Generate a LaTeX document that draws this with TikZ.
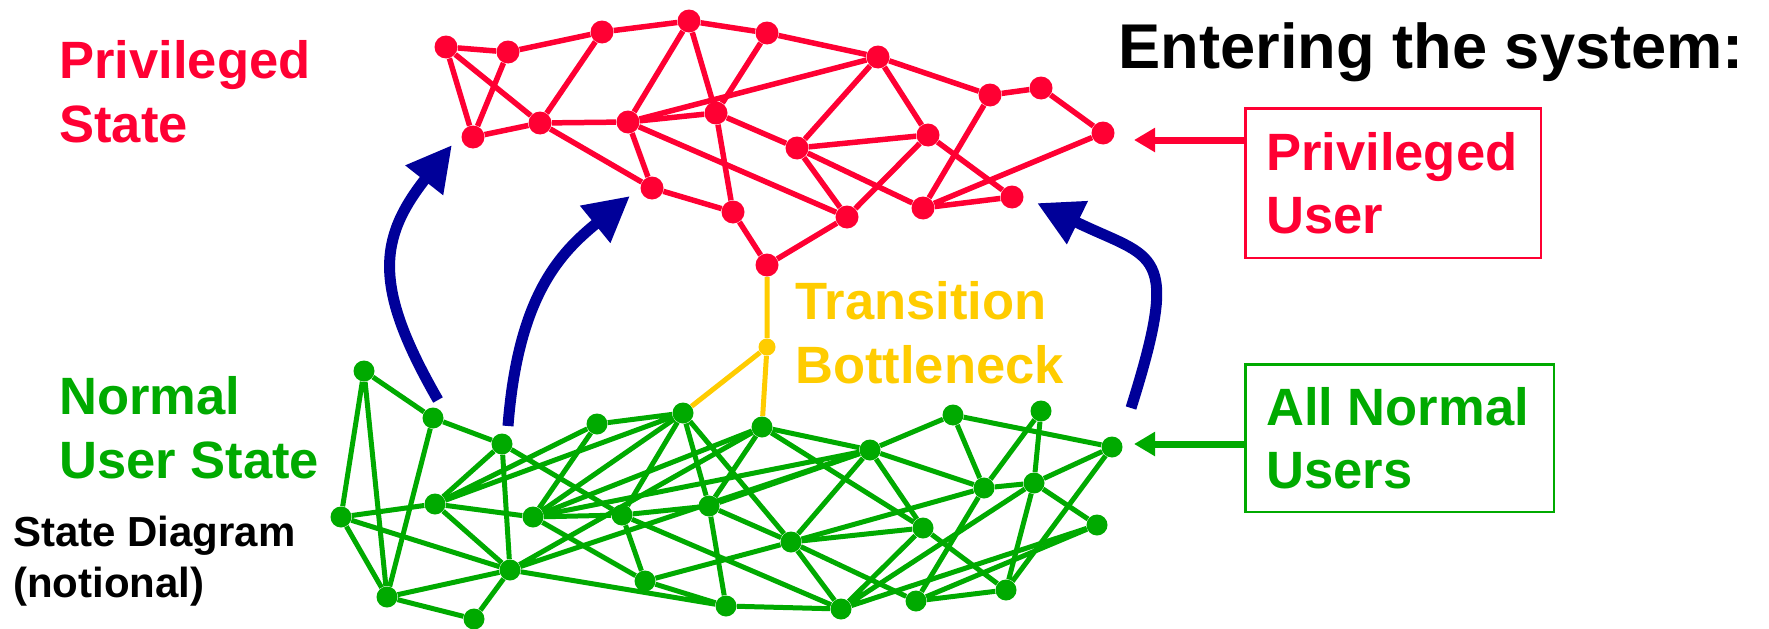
\documentclass[tikz,border=0pt]{standalone}
\usepackage{fontspec}
\setmainfont{Liberation Sans}
\usepackage{tikz}
\usetikzlibrary{arrows.meta, positioning}
\definecolor{privred}{RGB}{255,0,51}
\definecolor{usergreen}{RGB}{0,170,0}
\definecolor{gateyellow}{RGB}{255,204,0}
\definecolor{navyarrow}{RGB}{0,0,153}
\tikzset{%
	pstate/.style={circle, fill=privred, inner sep=0pt, minimum size=0.46cm},
	ustate/.style={circle, fill=usergreen, inner sep=0pt, minimum size=0.42cm},
	tstate/.style={circle, fill=gateyellow, inner sep=0pt, minimum size=0.34cm},
	pedge/.style={draw=privred, line width=0.11cm},
	uedge/.style={draw=usergreen, line width=0.1cm},
	tedge/.style={draw=gateyellow, line width=0.1cm},
	escalate/.style={draw=navyarrow, line width=0.22cm,
		-{Triangle[length=0.9cm, width=0.9cm]}},
	pointer/.style={line width=0.14cm, -{Triangle[length=0.42cm, width=0.46cm]}},
	bigtext/.style={font=\fontsize{29.9}{36.1}\selectfont\bfseries,
		inner sep=0pt, align=left, anchor=base west},
	notetext/.style={font=\fontsize{23.9}{28.5}\selectfont\bfseries,
		inner sep=0pt, align=left, anchor=base west},
	entrybox/.style={line width=0.05cm, font=\fontsize{29.9}{36.1}\selectfont\bfseries,
		align=flush left, inner ysep=0pt, anchor=north west},
}
\begin{document}
\begin{tikzpicture}[x=0.02cm, y=-0.02cm]
	\useasboundingbox (0,0) rectangle (1769,629);

	% privileged states
	\node[pstate] (p1) at (446,47) {};
	\node[pstate] (p2) at (508,52) {};
	\node[pstate] (p3) at (602,32) {};
	\node[pstate] (p4) at (689,21) {};
	\node[pstate] (p5) at (767,33) {};
	\node[pstate] (p6) at (878,57) {};
	\node[pstate] (p7) at (990,95) {};
	\node[pstate] (p8) at (1041,88) {};
	\node[pstate] (p9) at (1103,133) {};
	\node[pstate] (p10) at (473,137) {};
	\node[pstate] (p11) at (540,123) {};
	\node[pstate] (p12) at (628,122) {};
	\node[pstate] (p13) at (716,113) {};
	\node[pstate] (p14) at (797,148) {};
	\node[pstate] (p15) at (928,135) {};
	\node[pstate] (p16) at (652,188) {};
	\node[pstate] (p17) at (733,212) {};
	\node[pstate] (p18) at (847,217) {};
	\node[pstate] (p19) at (923,208) {};
	\node[pstate] (p20) at (1012,197) {};
	\node[pstate] (p21) at (767,265) {};

	\draw[pedge] (p1) -- (p2) -- (p3) -- (p4) -- (p5) -- (p6) -- (p7) -- (p8) -- (p9) -- (p19) -- (p20) -- (p15) -- (p14) -- (p13) -- (p12) -- (p11) -- (p10) -- (p1) -- (p11);
	\draw[pedge] (p2) -- (p10);
	\draw[pedge] (p3) -- (p11) -- (p16) -- (p17) -- (p21) -- (p18) -- (p12) -- (p6) -- (p14) -- (p18) -- (p15) -- (p6);
	\draw[pedge] (p4) -- (p12) -- (p16);
	\draw[pedge] (p4) -- (p13) -- (p5);
	\draw[pedge] (p13) -- (p17);
	\draw[pedge] (p14) -- (p19) -- (p7);

	% normal user states
	\node[ustate] (u1) at (364,371) {};
	\node[ustate] (u2) at (433,418) {};
	\node[ustate] (u3) at (502,444) {};
	\node[ustate] (u4) at (597,424) {};
	\node[ustate] (u5) at (683,413) {};
	\node[ustate] (u6) at (762,427) {};
	\node[ustate] (u7) at (341,517) {};
	\node[ustate] (u8) at (435,504) {};
	\node[ustate] (u9) at (533,517) {};
	\node[ustate] (u10) at (622,515) {};
	\node[ustate] (u11) at (709,506) {};
	\node[ustate] (u12) at (387,597) {};
	\node[ustate] (u13) at (510,570) {};
	\node[ustate] (u14) at (645,581) {};
	\node[ustate] (u15) at (726,606) {};
	\node[ustate] (u16) at (474,619) {};
	\node[ustate] (u17) at (870,450) {};
	\node[ustate] (u18) at (953,415) {};
	\node[ustate] (u19) at (1041,411) {};
	\node[ustate] (u20) at (1112,447) {};
	\node[ustate] (u21) at (791,542) {};
	\node[ustate] (u22) at (923,528) {};
	\node[ustate] (u23) at (984,488) {};
	\node[ustate] (u24) at (1034,483) {};
	\node[ustate] (u25) at (1097,525) {};
	\node[ustate] (u26) at (841,609) {};
	\node[ustate] (u27) at (916,601) {};
	\node[ustate] (u28) at (1006,590) {};

	\draw[uedge] (u1) -- (u2) -- (u3) -- (u8) -- (u7) -- (u1) -- (u12) -- (u2);
	\draw[uedge] (u7) -- (u12) -- (u16) -- (u13) -- (u12);
	\draw[uedge] (u7) -- (u13) -- (u3) -- (u10) -- (u9) -- (u8) -- (u13) -- (u15) -- (u11) -- (u10) -- (u14) -- (u15) -- (u26) -- (u10);
	\draw[uedge] (u8) -- (u4) -- (u5) -- (u8);
	\draw[uedge] (u4) -- (u9) -- (u5) -- (u10);
	\draw[uedge] (u5) -- (u11) -- (u6) -- (u9) -- (u14) -- (u21) -- (u5);
	\draw[uedge] (u13) -- (u6) -- (u17) -- (u13);
	\draw[uedge] (u6) -- (u22) -- (u17) -- (u9);
	\draw[uedge] (u11) -- (u17) -- (u21) -- (u11);
	\draw[uedge] (u17) -- (u18) -- (u20) -- (u28) -- (u24) -- (u20);
	\draw[uedge] (u17) -- (u23) -- (u18);
	\draw[uedge] (u19) -- (u23) -- (u24) -- (u19);
	\draw[uedge] (u24) -- (u25) -- (u26) -- (u21) -- (u22) -- (u26) -- (u24);
	\draw[uedge] (u21) -- (u23) -- (u27) -- (u21);
	\draw[uedge] (u22) -- (u28) -- (u27) -- (u25);

	% the one way up
	\node[tstate] (t1) at (767,347) {};
	\draw[tedge] (p21) -- (t1) -- (u5);
	\draw[tedge] (t1) -- (u6);

	% escalation arrows
	\coordinate (e1from) at (438,400);
	\coordinate (e1to) at (452,145);
	\coordinate (e2from) at (508,426);
	\coordinate (e2to) at (630,196);
	\coordinate (e3from) at (1131,408);
	\coordinate (e3to) at (1037,203);
	\draw[escalate] (e1from) .. controls (373,287) and (378,239) .. (e1to);
	\draw[escalate] (e2from) .. controls (518,296) and (560,253) .. (e2to);
	\draw[escalate] (e3from) .. controls (1182,246) and (1154,260) .. (e3to);

	% labels (anchored on the last line)
	\node[bigtext, text=privred] (privlbl) at (59,142) {Privileged\\State};
	\node[bigtext, text=usergreen] (userlbl) at (59,478) {Normal\\User State};
	\node[notetext] (notelbl) at (13,597) {State Diagram\\(notional)};
	\node[bigtext, text=gateyellow] (gatelbl) at (795,383) {Transition\\Bottleneck};
	\node[font=\fontsize{36}{43}\selectfont\bfseries, inner sep=0pt, anchor=base west] (entering) at (1118,68) {Entering the system:};

	% entry points
	\node[entrybox, draw=privred, text=privred, inner xsep=0.42cm, text width=5.08cm, minimum height=3cm] (prvbox) at (1244,107) {Privileged\\User};
	\node[entrybox, draw=usergreen, text=usergreen, inner xsep=0.42cm, text width=5.34cm, minimum height=2.96cm] (usrbox) at (1244,363) {All Normal\\Users};
	\coordinate (prvin) at (1134,140);
	\coordinate (usrin) at (1134,444);
	\draw[pointer, draw=privred, fill=privred] (prvbox.west |- prvin) -- (prvin);
	\draw[pointer, draw=usergreen, fill=usergreen] (usrbox.west |- usrin) -- (usrin);
\end{tikzpicture}
\end{document}
